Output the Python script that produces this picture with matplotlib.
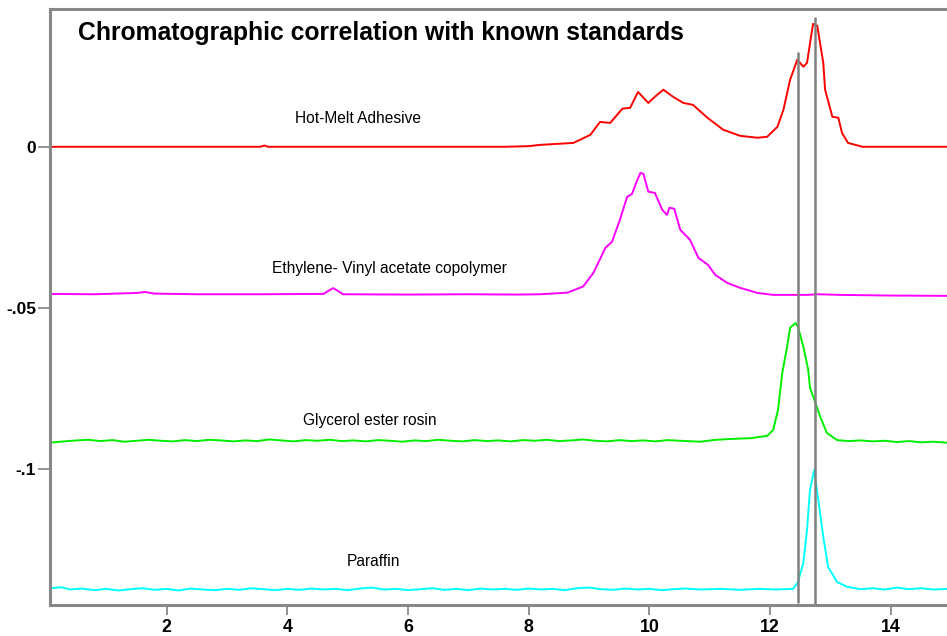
import numpy as np
import matplotlib
matplotlib.use("Agg")
import matplotlib.pyplot as plt

plt.rcParams['font.family'] = ['Liberation Sans', 'DejaVu Sans']

# (retention time, signal)
hot_melt = [(0.066, 0), (3.55, 0), (3.62, 0.0004), (3.68, 0), (7.6, 0), (8.0, 0.0002), (8.19, 0.0006),
            (8.74, 0.0012), (9.02, 0.0037), (9.18, 0.0077), (9.35, 0.0074), (9.55, 0.0118),
            (9.68, 0.0121), (9.81, 0.0170), (9.98, 0.0136), (10.09, 0.0155), (10.23, 0.0177),
            (10.39, 0.0155), (10.56, 0.0136), (10.72, 0.0130), (10.96, 0.0090), (11.22, 0.0053),
            (11.50, 0.0034), (11.79, 0.0028), (11.95, 0.0031), (12.12, 0.0062), (12.22, 0.0115),
            (12.33, 0.0208), (12.45, 0.0270), (12.55, 0.0248), (12.61, 0.0260), (12.71, 0.0381),
            (12.78, 0.0375), (12.88, 0.0260), (12.91, 0.0177), (13.03, 0.0093), (13.13, 0.0090),
            (13.19, 0.0043), (13.29, 0.0012), (13.53, 0), (14.93, 0)]

eva = [(0.066, -0.0456), (0.8, -0.0457), (1.5, -0.0453), (1.64, -0.0450), (1.8, -0.0455),
       (2.5, -0.0457), (3.5, -0.0457), (4.6, -0.0456), (4.70, -0.0444), (4.76, -0.0438),
       (4.83, -0.0446), (4.92, -0.0457), (6.0, -0.0458), (7.0, -0.0457), (7.8, -0.0458),
       (8.19, -0.0457), (8.64, -0.0452), (8.90, -0.0433), (9.07, -0.0391), (9.27, -0.0313),
       (9.38, -0.0294), (9.51, -0.0226), (9.63, -0.0155), (9.71, -0.0146), (9.80, -0.0102),
       (9.85, -0.0081), (9.90, -0.0084), (9.98, -0.0139), (10.09, -0.0143), (10.21, -0.0195),
       (10.29, -0.0211), (10.33, -0.0189), (10.41, -0.0192), (10.51, -0.0257), (10.67, -0.0288),
       (10.81, -0.0344), (10.97, -0.0366), (11.09, -0.0397), (11.29, -0.0422), (11.50, -0.0437),
       (11.79, -0.0453), (12.05, -0.0459), (12.61, -0.0459), (12.8, -0.0457), (13.16, -0.0459),
       (14.0, -0.0461), (14.93, -0.0462)]

rosin = [(0.066, -0.0917), (0.3, -0.0913), (0.5, -0.0910), (0.7, -0.0908), (0.9, -0.0912),
         (1.1, -0.0909), (1.3, -0.0914), (1.5, -0.0911), (1.7, -0.0908), (1.9, -0.0911),
         (2.1, -0.0913), (2.3, -0.0909), (2.5, -0.0912), (2.7, -0.0908), (2.9, -0.0910),
         (3.1, -0.0913), (3.3, -0.0910), (3.5, -0.0912), (3.7, -0.0907), (3.9, -0.0910),
         (4.1, -0.0913), (4.3, -0.0909), (4.5, -0.0911), (4.7, -0.0908), (4.9, -0.0912),
         (5.1, -0.0910), (5.3, -0.0913), (5.5, -0.0909), (5.7, -0.0911), (5.9, -0.0914),
         (6.1, -0.0910), (6.3, -0.0912), (6.5, -0.0908), (6.7, -0.0911), (6.9, -0.0913),
         (7.1, -0.0909), (7.3, -0.0912), (7.5, -0.0910), (7.7, -0.0913), (7.9, -0.0909),
         (8.1, -0.0911), (8.3, -0.0908), (8.5, -0.0912), (8.7, -0.0910), (8.9, -0.0907),
         (9.1, -0.0911), (9.3, -0.0913), (9.5, -0.0909), (9.7, -0.0912), (9.9, -0.0910),
         (10.1, -0.0913), (10.3, -0.0909), (10.5, -0.0911), (10.84, -0.0914), (11.1, -0.0908),
         (11.4, -0.0905), (11.67, -0.0903), (11.95, -0.0896), (12.05, -0.0877), (12.13, -0.0815),
         (12.20, -0.0701), (12.28, -0.0620), (12.33, -0.0561), (12.42, -0.0546), (12.46, -0.0558),
         (12.55, -0.0620), (12.63, -0.0691), (12.66, -0.0747), (12.75, -0.0794), (12.83, -0.0837),
         (12.94, -0.0887), (13.11, -0.0909), (13.3, -0.0912), (13.5, -0.0910), (13.7, -0.0913),
         (13.9, -0.0911), (14.1, -0.0915), (14.3, -0.0912), (14.5, -0.0916), (14.7, -0.0914),
         (14.93, -0.0917)]

paraffin = [(0.066, -0.1368), (0.25, -0.1365), (0.4, -0.1372), (0.6, -0.1369), (0.8, -0.1374),
            (1.0, -0.1370), (1.2, -0.1375), (1.4, -0.1371), (1.6, -0.1368), (1.8, -0.1373),
            (2.0, -0.1370), (2.2, -0.1375), (2.4, -0.1369), (2.6, -0.1372), (2.8, -0.1374),
            (3.0, -0.1370), (3.2, -0.1373), (3.4, -0.1368), (3.6, -0.1371), (3.8, -0.1374),
            (4.0, -0.1370), (4.2, -0.1373), (4.4, -0.1369), (4.6, -0.1372), (4.8, -0.1370),
            (5.0, -0.1374), (5.2, -0.1369), (5.4, -0.1366), (5.6, -0.1372), (5.8, -0.1370),
            (6.0, -0.1374), (6.2, -0.1371), (6.4, -0.1368), (6.6, -0.1373), (6.8, -0.1370),
            (7.0, -0.1374), (7.2, -0.1369), (7.4, -0.1372), (7.6, -0.1370), (7.8, -0.1373),
            (8.0, -0.1369), (8.2, -0.1372), (8.4, -0.1370), (8.6, -0.1374), (8.8, -0.1368),
            (9.0, -0.1366), (9.2, -0.1371), (9.4, -0.1373), (9.6, -0.1369), (9.8, -0.1372),
            (10.0, -0.1370), (10.2, -0.1374), (10.4, -0.1371), (10.6, -0.1369), (10.84, -0.1372),
            (11.2, -0.1370), (11.5, -0.1373), (11.8, -0.1370), (12.1, -0.1372), (12.38, -0.1370),
            (12.46, -0.1349), (12.55, -0.1290), (12.61, -0.1187), (12.66, -0.1063), (12.73, -0.1001),
            (12.79, -0.1085), (12.88, -0.1209), (12.96, -0.1302), (13.11, -0.1349), (13.28, -0.1364),
            (13.5, -0.1371), (13.7, -0.1368), (13.9, -0.1372), (14.1, -0.1366), (14.3, -0.1371),
            (14.5, -0.1368), (14.7, -0.1372), (14.93, -0.1370)]

names = ['Hot-Melt Adhesive', 'Ethylene- Vinyl acetate copolymer',
         'Glycerol ester rosin', 'Paraffin']
colors = ['#ff0000', '#ff00ff', '#00ee00', '#00ffff']
label_xy = [(4.13, 0.0087), (3.75, -0.0378), (4.26, -0.0849), (4.99, -0.1286)]

# marker lines at the two peaks: (x, ymin, ymax)
markers = [(12.46, -0.1413, 0.0294), (12.75, -0.1430, 0.0403)]

xticks = [2, 4, 6, 8, 10, 12, 14]
yticks = [0, -0.05, -0.1]
yticklabels = ['0', '-.05', '-.1']

fig = plt.figure(figsize=(9.47, 6.36), dpi=100)
ax = fig.add_axes([50 / 947, 31 / 636, 897 / 947, 596 / 636])

for trace, c in zip([hot_melt, eva, rosin, paraffin], colors):
    x, y = np.array(trace).T
    ax.plot(x, y, color=c, lw=1.4)

for xm, y0, y1 in markers:
    ax.vlines(xm, y0, y1, color='#808080', lw=1.8)

for name, (tx, ty) in zip(names, label_xy):
    ax.text(tx, ty, name, fontsize=11.2, va='center', ha='left')

ax.set_xlim(0.066, 14.93)
ax.set_ylim(-0.1420, 0.0427)
ax.set_xticks(xticks)
ax.set_yticks(yticks)
ax.set_yticklabels(yticklabels)
ax.tick_params(axis='both', colors='#808080', labelcolor='black', width=1.2)
ax.tick_params(axis='y', length=9, pad=1, labelsize=12.5)
ax.tick_params(axis='x', length=7, pad=3, labelsize=12.8)
for lab in ax.get_xticklabels() + ax.get_yticklabels():
    lab.set_fontweight('bold')

ax.spines['right'].set_visible(False)
for s in ['left', 'top', 'bottom']:
    ax.spines[s].set_color('#888888')
    ax.spines[s].set_linewidth(2.2)

fig.text(78 / 947, 1 - 33 / 636, 'Chromatographic correlation with known standards',
         fontsize=17.8, fontweight='bold', va='center', ha='left')

fig.savefig('out.png', dpi=100)
